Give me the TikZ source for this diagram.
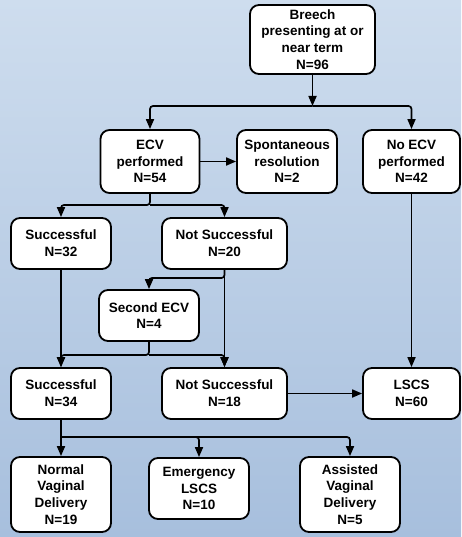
\documentclass[tikz,border=0pt]{standalone}
\usepackage{fontspec}
\setmainfont{Liberation Sans}
\usetikzlibrary{arrows.meta}
\definecolor{bgtop}{HTML}{CEDDEE}
\definecolor{bgbot}{HTML}{A7BFDD}
\tikzset{
  box/.style={draw, fill=white, line width=1.8pt, rounded corners=9pt,
    align=center, inner sep=0pt, font=\bfseries\fontsize{13.5}{16.7}\selectfont},
  link/.style={line width=1.7pt, rounded corners=3pt},
  >={Triangle[length=10pt,width=8pt]}
}
\begin{document}
\begin{tikzpicture}[x=1pt,y=-1pt]
  \shade[top color=bgtop, bottom color=bgbot] (0,0) rectangle (461,537);
  \useasboundingbox (0,0) rectangle (461,537);
  \node[box, minimum width=125, minimum height=69](brch) at (312.5,39.5) {Breech\\presenting at or\\near term\\N=96};
  \node[box, minimum width=99, minimum height=63](ecv) at (150,161.5) {ECV\\performed\\N=54};
  \node[box, minimum width=100, minimum height=63](spont) at (287,161.5) {Spontaneous\\resolution\\N=2};
  \node[box, minimum width=97, minimum height=63](noecv) at (411.5,161.5) {No ECV\\performed\\N=42};
  \node[box, minimum width=100, minimum height=51](succa) at (61,243.5) {Successful\\N=32};
  \node[box, minimum width=125, minimum height=51](nsucca) at (224.5,243.5) {Not Successful\\N=20};
  \node[box, minimum width=100, minimum height=51](secv) at (149,315.5) {Second ECV\\N=4};
  \node[box, minimum width=100, minimum height=51](succb) at (61,393.5) {Successful\\N=34};
  \node[box, minimum width=125, minimum height=51](nsuccb) at (224.5,393.5) {Not Successful\\N=18};
  \node[box, minimum width=97, minimum height=51](lscs) at (411.5,393.5) {LSCS\\N=60};
  \node[box, minimum width=100, minimum height=75](nvd) at (61,494.5) {Normal\\Vaginal\\Delivery\\N=19};
  \node[box, minimum width=100, minimum height=61](elscs) at (199,488.5) {Emergency\\LSCS\\N=10};
  \node[box, minimum width=100, minimum height=75](avd) at (350,494.5) {Assisted\\Vaginal\\Delivery\\N=5};
  \coordinate(ja) at (312.5,106);
  \coordinate(jb) at (150,205);
  \coordinate(jc) at (224.5,278);
  \coordinate(jd) at (149,355);
  \coordinate(je) at (61,437);
  \draw[link,->] (brch) -- (ja);
  \draw[link,->] (ja) -| (ecv);
  \draw[link,->] (ja) -| (noecv);
  \draw[link,->] (ecv) -- (spont);
  \draw[link,->] (ecv) -- (jb) -| (succa);
  \draw[link,->] (jb) -| (nsucca);
  \draw[link,->] (nsucca) -- (jc) -| (secv);
  \draw[link,->] (nsucca) -- (nsuccb);
  \draw[link,->] (succa) -- (succb);
  \draw[link,->] (secv) -- (jd) -| (succb);
  \draw[link,->] (jd) -| (nsuccb);
  \draw[link,->] (nsuccb) -- (lscs);
  \draw[link,->] (noecv) -- (lscs);
  \draw[link,->] (succb) -- (nvd);
  \draw[link,->] (je) -| (elscs);
  \draw[link,->] (je) -| (avd);
\end{tikzpicture}
\end{document}
